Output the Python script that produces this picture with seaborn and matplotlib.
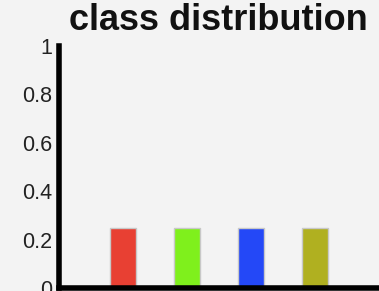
import matplotlib
matplotlib.use("Agg")
import matplotlib.pyplot as plt
import seaborn as sns
import pandas as pd

classes = [1, 2, 3, 4]
fractions = [0.25, 0.25, 0.25, 0.25]
colors = ["#e84033", "#7ff01c", "#2448f7", "#b0b020"]
yticks = [0, 0.2, 0.4, 0.6, 0.8, 1]
ytick_labels = ["0", "0.2", "0.4", "0.6", "0.8", "1"]

sns.set_theme(style="white")
plt.rcParams['font.family'] = ['Liberation Sans', 'DejaVu Sans']

fig = plt.figure(figsize=(3.79, 2.91), dpi=100, facecolor="#f3f3f3")
ax = fig.add_axes([59/379, 3/291, 1 - 59/379, 242/291])
ax.set_facecolor("#f3f3f3")

df = pd.DataFrame({"cls": classes, "frac": fractions})
sns.barplot(data=df, x="cls", y="frac", hue="cls", palette=colors,
            native_scale=True, width=0.4, legend=False, ax=ax, saturation=1,
            edgecolor="#c8c8c8", linewidth=1)

ax.set_xlim(0, 5)
ax.set_ylim(0, 1)
ax.set_yticks(yticks)
ax.set_yticklabels(ytick_labels)
ax.set_xticks([])
ax.set_xlabel("")
ax.set_ylabel("")
ax.tick_params(axis="y", labelsize=15.5, length=0, pad=5, colors="#222222")
for s in ["top", "right"]:
    ax.spines[s].set_visible(False)
for s in ["left", "bottom"]:
    ax.spines[s].set_linewidth(4)
    ax.spines[s].set_color("black")
fig.text(218/379, 1 - 21/291, "class distribution", ha="center", va="center",
         fontsize=26, fontweight="bold", color="#111111")

fig.savefig("out.png", dpi=100, facecolor=fig.get_facecolor())
